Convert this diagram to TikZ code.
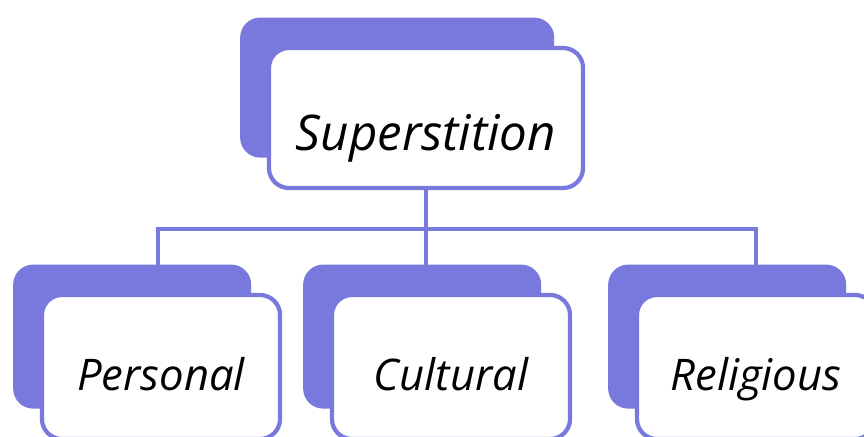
\documentclass[tikz,border=0pt]{standalone}
\usepackage{fontspec}
\setmainfont{Open Sans}
\usetikzlibrary{shadows,backgrounds}
\definecolor{boxfill}{RGB}{121,120,221}
\tikzset{
    box/.style={draw=boxfill, fill=white, line width=3pt, rounded corners=0.5cm,
        general shadow={fill=boxfill, rounded corners=0.55cm,
            shadow xshift=-0.72cm, shadow yshift=0.76cm},
        text depth=0pt, font=\itshape},
    rootbox/.style={box, minimum width=7.85cm, minimum height=3.5cm, text height=1.6cm,
        font=\itshape\fontsize{35}{40}\selectfont},
    leafbox/.style={box, minimum width=5.95cm, minimum height=3.6cm, text height=1.15cm,
        font=\itshape\fontsize{31}{36}\selectfont},
    link/.style={draw=boxfill, line width=2.8pt}
}

\begin{document}
\begin{tikzpicture}[x=0.025cm, y=-0.025cm]
                \useasboundingbox (0,0) rectangle (864,436);
                \clip (0,0) rectangle (864,436);

                \node[rootbox] (root) at (426,118) {Superstition};
                \node[leafbox] (personal) at (161,367) {Personal};
                \node[leafbox] (cultural) at (451,367) {Cultural};
                \node[leafbox] (religious) at (756,367) {Religious};
                \coordinate (bus) at (424,229);

                \begin{scope}[on background layer]
                    \draw[link] (root.south) -- (root.south |- cultural.north);
                    \draw[link] ([xshift=-0.08cm]personal.north) |- (bus) -| (religious.north);
                \end{scope}
            \end{tikzpicture}
\end{document}
